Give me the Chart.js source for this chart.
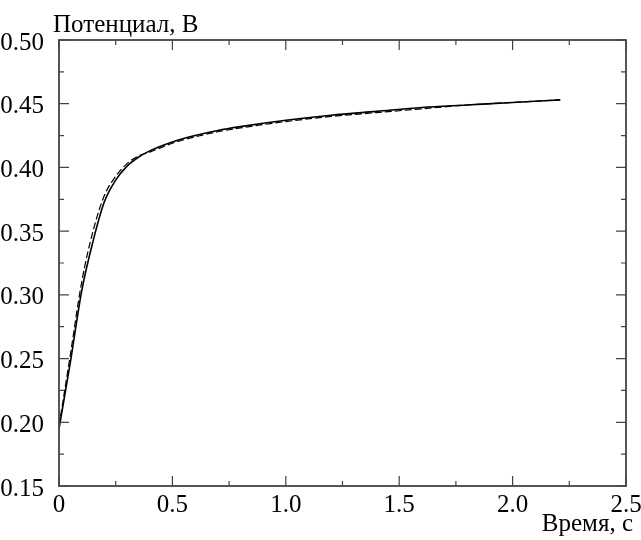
<!DOCTYPE html>
<html>
<head>
<meta charset="utf-8">
<script src="https://cdn.jsdelivr.net/npm/chart.js@4.4.1/dist/chart.umd.min.js"></script>
<style>
  body { margin: 0; background: #fff; }
  canvas { display: block; }
</style>
</head>
<body>
<canvas id="potentialChart" width="641" height="540"></canvas>
<script>
// time axis, s
const timeS = [0, 0.05, 0.1, 0.15, 0.2, 0.25, 0.3, 0.35, 0.4, 0.5, 0.6, 0.7, 0.8, 1.0, 1.2, 1.4, 1.6, 1.8, 2.0, 2.21];
// solid curve, V
const solidV = [0.195, 0.247, 0.303, 0.342, 0.373, 0.390, 0.401, 0.408, 0.413, 0.420, 0.425, 0.429, 0.432, 0.437, 0.441, 0.444, 0.447, 0.449, 0.451, 0.453];
// dashed curve, V
const dashedV = [0.197, 0.253, 0.310, 0.350, 0.378, 0.393, 0.403, 0.409, 0.412, 0.419, 0.424, 0.428, 0.431, 0.436, 0.440, 0.443, 0.446, 0.449, 0.451, 0.453];

const xTicks = [0, 0.5, 1.0, 1.5, 2.0, 2.5];
const yTicks = [0.15, 0.20, 0.25, 0.30, 0.35, 0.40, 0.45, 0.50];
const yTitle = 'Потенциал, В';
const xTitle = 'Время, с';

const toPoints = (ys) => timeS.map((t, i) => ({ x: t, y: ys[i] }));

Chart.defaults.font.family = "'Liberation Serif', serif";
Chart.defaults.font.size = 25;
Chart.defaults.color = '#000';

// frame with inward ticks on all four sides + axis titles
const frameTicks = {
  id: 'frameTicks',
  afterDatasetsDraw(chart) {
    const { ctx, chartArea: a, scales: { x, y } } = chart;
    ctx.save();
    ctx.strokeStyle = '#444';
    ctx.lineWidth = 1.2;
    ctx.beginPath();
    for (let i = 0; i <= 10; i++) {
      const px = x.getPixelForValue(i * 0.25);
      const len = i % 2 === 0 ? 10 : 5;
      ctx.moveTo(px, a.bottom); ctx.lineTo(px, a.bottom - len);
      ctx.moveTo(px, a.top); ctx.lineTo(px, a.top + len);
    }
    for (let i = 0; i <= 14; i++) {
      const py = y.getPixelForValue(0.15 + i * 0.025);
      const len = i % 2 === 0 ? 10 : 5;
      ctx.moveTo(a.left, py); ctx.lineTo(a.left + len, py);
      ctx.moveTo(a.right, py); ctx.lineTo(a.right - len, py);
    }
    ctx.stroke();
    ctx.lineWidth = 1.8;
    ctx.strokeRect(a.left, a.top, a.right - a.left, a.bottom - a.top);

    ctx.fillStyle = '#000';
    ctx.font = "25px 'Liberation Serif', serif";
    ctx.textBaseline = 'alphabetic';
    ctx.textAlign = 'left';
    ctx.fillText(yTitle, 53, 32);
    ctx.textAlign = 'right';
    ctx.fillText(xTitle, 633, 531);
    ctx.restore();
  }
};

new Chart(document.getElementById('potentialChart'), {
  type: 'line',
  data: {
    datasets: [
      {
        label: 'solid',
        data: toPoints(solidV),
        borderColor: '#000',
        borderWidth: 1.6,
        pointRadius: 0,
        cubicInterpolationMode: 'monotone'
      },
      {
        label: 'dashed',
        data: toPoints(dashedV),
        borderColor: '#000',
        borderWidth: 1.2,
        borderDash: [7, 3],
        pointRadius: 0,
        cubicInterpolationMode: 'monotone'
      }
    ]
  },
  options: {
    responsive: false,
    animation: false,
    layout: { padding: { left: 0, right: 15, top: 40, bottom: 0 } },
    plugins: { legend: { display: false }, tooltip: { enabled: false } },
    scales: {
      x: {
        type: 'linear',
        min: 0, max: 2.5,
        grid: { display: false },
        border: { display: false },
        afterBuildTicks: s => { s.ticks = xTicks.map(v => ({ value: v })); },
        ticks: {
          padding: -4,
          maxRotation: 0,
          autoSkip: false,
          callback: v => v === 0 ? '0' : v.toFixed(1)
        },
        afterFit: s => { s.height = 54; s.paddingLeft = 0; s.paddingRight = 0; }
      },
      y: {
        min: 0.15, max: 0.5,
        grid: { display: false },
        border: { display: false },
        afterBuildTicks: s => { s.ticks = yTicks.map(v => ({ value: v })); },
        ticks: {
          padding: 7,
          labelOffset: 3,
          autoSkip: false,
          callback: v => v.toFixed(2)
        },
        afterFit: s => { s.width = 59; s.paddingTop = 0; s.paddingBottom = 0; }
      }
    }
  },
  plugins: [frameTicks]
});
</script>
</body>
</html>
